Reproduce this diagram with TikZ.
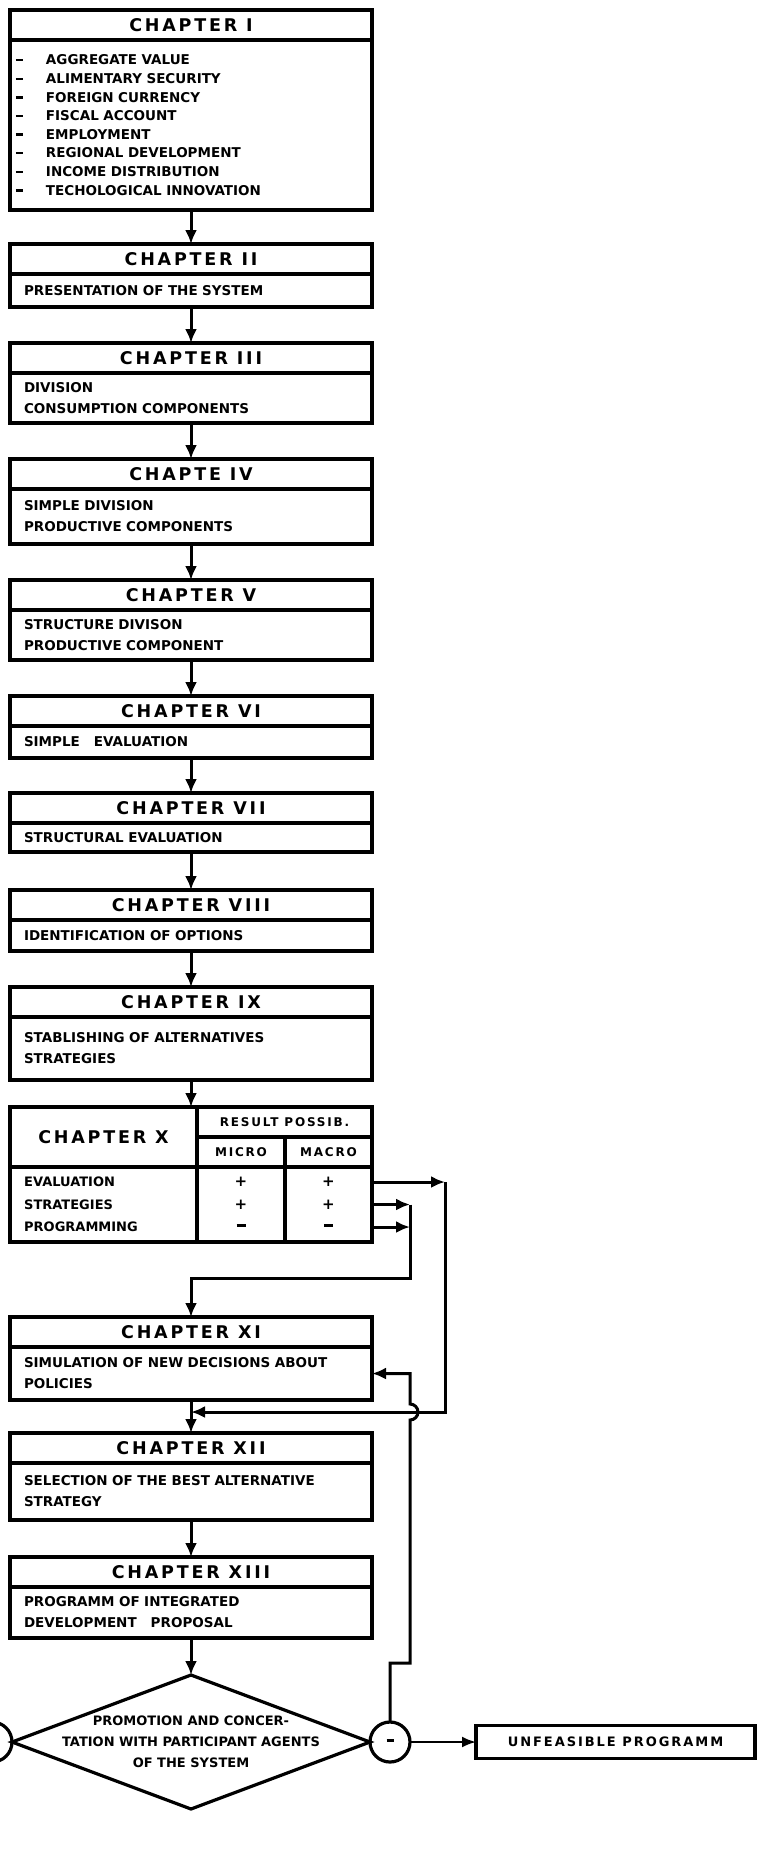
\documentclass[tikz,border=0pt]{standalone}
\usepackage{fontspec}
\newfontfamily\hdfont[LetterSpace=16]{DejaVu Sans}
\newfontfamily\bdfont{DejaVu Sans}
\newfontfamily\smfont[LetterSpace=15]{DejaVu Sans}
\usetikzlibrary{positioning, arrows.meta, shapes.geometric}

\newcommand{\dsh}{\rule[3.5pt]{7pt}{2.4pt}}
\newcommand{\itm}[1]{\makebox[30pt][l]{\dsh}#1}

\begin{document}
\begin{tikzpicture}[x=1pt, y=-1pt,
      chead/.style={draw, line width=3.6pt, outer sep=0pt, inner sep=0pt, minimum width=362pt, minimum height=30pt, font=\hdfont\bfseries\fontsize{17.5}{20}\selectfont},
      cbody/.style={draw, line width=3.6pt, outer sep=0pt, inner xsep=14pt, inner ysep=0pt, text width=334pt, align=left, font=\bdfont\bfseries\fontsize{13.5}{21}\selectfont},
      cell/.style={draw, line width=3.6pt, outer sep=0pt, inner sep=0pt},
      rowtxt/.style={anchor=west, inner xsep=14pt, font=\bdfont\bfseries\fontsize{13}{15}\selectfont},
      sym/.style={font=\bdfont\bfseries\fontsize{15}{16}\selectfont},
      ring/.style={circle, draw, line width=3.2pt, outer sep=0pt, inner sep=0pt, minimum size=40pt, font=\bdfont\bfseries\fontsize{14}{16}\selectfont},
      flow/.style={-{Latex[length=14pt, width=12pt]}, line width=3pt},
      thinflow/.style={-{Latex[length=14pt, width=11pt]}, line width=2.2pt}
    ]
    \useasboundingbox (0,0) rectangle (758,1853);

    % chapters I to IX
    \node[chead] (h1) at (191,25) {CHAPTER I};
    \node[cbody, minimum height=170pt, inner xsep=6pt, text width=350pt, font=\bdfont\bfseries\fontsize{13.5}{18.6}\selectfont, below=0pt of h1] (b1)
      {\itm{AGGREGATE VALUE}\\ \itm{ALIMENTARY SECURITY}\\ \itm{FOREIGN CURRENCY}\\ \itm{FISCAL ACCOUNT}\\
       \itm{EMPLOYMENT}\\ \itm{REGIONAL DEVELOPMENT}\\ \itm{INCOME DISTRIBUTION}\\ \itm{TECHOLOGICAL INNOVATION}};
    \node[chead, below=34pt of b1] (h2) {CHAPTER II};
    \node[cbody, minimum height=33pt, below=0pt of h2] (b2) {PRESENTATION OF THE SYSTEM};
    \node[chead, below=36pt of b2] (h3) {CHAPTER III};
    \node[cbody, minimum height=50pt, below=0pt of h3] (b3) {DIVISION\\CONSUMPTION COMPONENTS};
    \node[chead, below=36pt of b3] (h4) {CHAPTE IV};
    \node[cbody, minimum height=55pt, below=0pt of h4] (b4) {SIMPLE DIVISION\\PRODUCTIVE COMPONENTS};
    \node[chead, below=36pt of b4] (h5) {CHAPTER V};
    \node[cbody, minimum height=50pt, below=0pt of h5] (b5) {STRUCTURE DIVISON\\PRODUCTIVE COMPONENT};
    \node[chead, below=36pt of b5] (h6) {CHAPTER VI};
    \node[cbody, minimum height=32pt, below=0pt of h6] (b6) {SIMPLE\hspace{14pt}EVALUATION};
    \node[chead, below=35pt of b6] (h7) {CHAPTER VII};
    \node[cbody, minimum height=29pt, below=0pt of h7] (b7) {STRUCTURAL EVALUATION};
    \node[chead, below=38pt of b7] (h8) {CHAPTER VIII};
    \node[cbody, minimum height=31pt, below=0pt of h8] (b8) {IDENTIFICATION OF OPTIONS};
    \node[chead, below=36pt of b8] (h9) {CHAPTER IX};
    \node[cbody, minimum height=63pt, below=0pt of h9] (b9) {STABLISHING OF ALTERNATIVES\\STRATEGIES};

    % chapter X table
    \node[cell, minimum width=187pt, minimum height=60pt, anchor=north west, font=\hdfont\bfseries\fontsize{17.5}{20}\selectfont] (xh) at ([yshift=-27pt]b9.south west) {CHAPTER X};
    \node[cell, minimum width=175pt, minimum height=30pt, anchor=north west, font=\smfont\bfseries\fontsize{12}{14}\selectfont] (xr) at (xh.north east) {RESULT POSSIB.};
    \node[cell, minimum width=88pt, minimum height=30pt, anchor=north west, font=\smfont\bfseries\fontsize{12}{14}\selectfont] (xmi) at (xr.south west) {MICRO};
    \node[cell, minimum width=87pt, minimum height=30pt, right=0pt of xmi, font=\smfont\bfseries\fontsize{12}{14}\selectfont] (xma) {MACRO};
    \node[cell, minimum width=187pt, minimum height=75pt, below=0pt of xh] (xl) {};
    \node[cell, minimum width=88pt, minimum height=75pt, below=0pt of xmi] (xmib) {};
    \node[cell, minimum width=87pt, minimum height=75pt, below=0pt of xma] (xmab) {};
    \node[rowtxt] (r1) at ([yshift=22.5pt]xl.west) {EVALUATION};
    \node[rowtxt] (r2) at (xl.west) {STRATEGIES};
    \node[rowtxt] (r3) at ([yshift=-22.5pt]xl.west) {PROGRAMMING};
    \node[sym] (s11) at (xmib |- r1) {+};
    \node[sym] (s12) at (xmab |- r1) {+};
    \node[sym] (s21) at (xmib |- r2) {+};
    \node[sym] (s22) at (xmab |- r2) {+};
    \node[sym] (s31) at (xmib |- r3) {\rule[3pt]{9pt}{2.6pt}};
    \node[sym] (s32) at (xmab |- r3) {\rule[3pt]{9pt}{2.6pt}};

    % chapters XI to XIII
    \node[chead, below=75pt of xl.south west, anchor=north west] (h11) {CHAPTER XI};
    \node[cbody, minimum height=53pt, below=0pt of h11] (b11) {SIMULATION OF NEW DECISIONS ABOUT\\POLICIES};
    \node[chead, below=33pt of b11] (h12) {CHAPTER XII};
    \node[cbody, minimum height=57pt, below=0pt of h12] (b12) {SELECTION OF THE BEST ALTERNATIVE\\STRATEGY};
    \node[chead, below=37pt of b12] (h13) {CHAPTER XIII};
    \node[cbody, minimum height=51pt, below=0pt of h13] (b13) {PROGRAMM OF INTEGRATED\\DEVELOPMENT\hspace{14pt}PROPOSAL};

    % decision
    \node[diamond, draw, line width=3.2pt, outer sep=0pt, inner sep=0pt, minimum width=358pt, minimum height=134pt, below=37pt of b13] (dm) {};
    \node[align=center, font=\bdfont\bfseries\fontsize{13}{21}\selectfont] (dmt) at (dm.center)
      {PROMOTION AND CONCER-\\TATION WITH PARTICIPANT AGENTS\\OF THE SYSTEM};
    \node[ring, right=0pt of dm] (m) {\rule[3pt]{7pt}{2.6pt}};
    \node[ring, left=0pt of dm] (lc) {};
    \node[cell, minimum width=279pt, minimum height=33pt, right=66pt of m, font=\smfont\bfseries\fontsize{13}{15}\selectfont] (uf) {UNFEASIBLE PROGRAMM};

    \coordinate (j1) at (445,1182);
    \coordinate (j2) at (445,1412);
    \coordinate (k1) at (410,1204.5);
    \coordinate (k2) at (410,1227);
    \coordinate (k3) at (410,1278);
    \coordinate (f1) at (410,1663);
    \coordinate (f2) at (b11.east -| 410,0);

    \draw[flow] (b1) -- (h2);
    \draw[flow] (b2) -- (h3);
    \draw[flow] (b3) -- (h4);
    \draw[flow] (b4) -- (h5);
    \draw[flow] (b5) -- (h6);
    \draw[flow] (b6) -- (h7);
    \draw[flow] (b7) -- (h8);
    \draw[flow] (b8) -- (h9);
    \draw[flow] (b9.south) -- (b9.south |- xh.north);
    \draw[flow] (b11) -- (h12);
    \draw[flow] (b12) -- (h13);
    \draw[flow] (b13) -- (dm);

    \draw[flow] (xmab.east |- r1) -- (j1);
    \draw[flow] (xmab.east |- r2) -- (k1);
    \draw[flow] (xmab.east |- r3) -- (k2);
    \draw[flow] (k1) -- (k3) -| (h11.north);
    \draw[flow] (j1) -- (j2) -- (j2 -| b11.south);
    \draw[flow] (m.north) -- (m.north |- f1) -- (f1) -- (410,1420)
      arc[start angle=-90, end angle=90, radius=8pt] -- (f2) -- (b11.east);
    \draw[thinflow] (m) -- (uf);
  \end{tikzpicture}
\end{document}
